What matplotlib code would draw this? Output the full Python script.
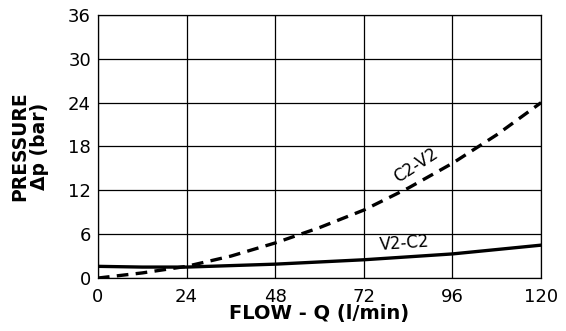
import matplotlib.pyplot as plt

flow = [0, 12, 24, 36, 48, 60, 72, 84, 96, 108, 120]
c2_v2 = [0, 0.7, 1.6, 3.0, 4.8, 6.9, 9.3, 12.3, 15.7, 19.6, 24.0]
v2_c2 = [1.6, 1.5, 1.5, 1.7, 1.9, 2.2, 2.5, 2.9, 3.3, 3.9, 4.5]
xticks = [0, 24, 48, 72, 96, 120]
yticks = [0, 6, 12, 18, 24, 30, 36]

plt.rcParams['font.family'] = ['DejaVu Sans']

fig = plt.figure(figsize=(5.66, 3.31), dpi=100)
ax = fig.add_axes([0.173, 0.16, 0.783, 0.795])

ax.plot(flow, c2_v2, color='k', lw=2.4, ls=(0, (3.5, 2.2)), zorder=3)
ax.plot(flow, v2_c2, color='k', lw=2.4, zorder=3)

ax.set_xlim(0, 120)
ax.set_ylim(0, 36)
ax.set_xticks(xticks)
ax.set_yticks(yticks)
ax.grid(True, color='k', lw=0.9)
ax.tick_params(length=0, labelsize=13)
ax.tick_params(axis='x', pad=7)
ax.tick_params(axis='y', pad=5)
for s in ax.spines.values():
    s.set_linewidth(0.9)

ax.set_xlabel('FLOW - Q (l/min)', fontsize=14, fontweight='bold', labelpad=-1)
ax.set_ylabel('PRESSURE\n\u0394p (bar)', fontsize=13.5, fontweight='bold',
              linespacing=1.05, labelpad=14)

ax.text(86, 15.4, 'C2-V2', rotation=33, fontsize=12, ha='center', va='center')
ax.text(83, 4.8, 'V2-C2', rotation=4, fontsize=12, ha='center', va='center')

fig.savefig('out.png', dpi=100)
